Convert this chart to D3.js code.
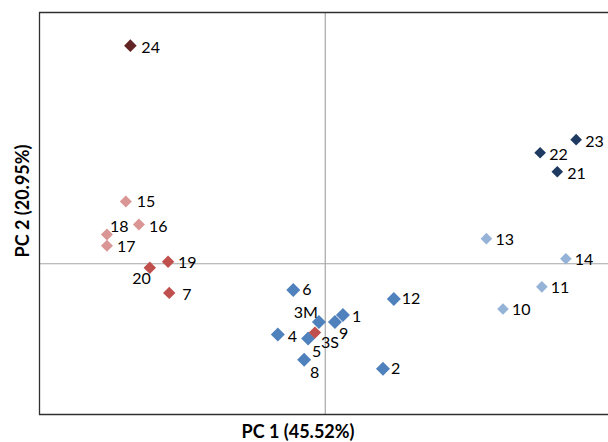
<!DOCTYPE html>
<html>
<head>
<meta charset="utf-8">
<script src="https://cdn.jsdelivr.net/npm/d3@7"></script>
<style>
  html, body { margin: 0; padding: 0; background: #fff; }
  svg { display: block; }
  text { font-family: Lato, "Open Sans", sans-serif; }
</style>
</head>
<body>
<svg id="chart" width="608" height="442"></svg>
<script>
// ---- data ----
const labels = ["1","2","4","5","6","8","9","12","3M","10","11","13","14","21","22","23","15","16","17","18","19","20","7","3S","24"];
const pc1 = [0.31, 1.01, -0.83, -0.30, -0.56, -0.37, 0.17, 1.20, -0.11, 3.11, 3.79, 2.82, 4.21, 4.06, 3.76, 4.39, -3.49, -3.26, -3.82, -3.82, -2.75, -3.07, -2.73, -0.18, -3.41];
const pc2 = [-1.02, -2.09, -1.41, -1.49, -0.52, -1.91, -1.16, -0.70, -1.16, -0.90, -0.46, 0.50, 0.10, 1.83, 2.21, 2.47, 1.24, 0.78, 0.36, 0.58, 0.04, -0.08, -0.58, -1.37, 4.34];
const groups = ["A","A","A","A","A","A","A","A","A","B","B","B","B","C","C","C","D","D","D","D","E","E","E","E","F"];
const xTitle = "PC 1 (45.52%)";
const yTitle = "PC 2 (20.95%)";

// ---- styles ----
const groupColor = {A:"#4F81BD", B:"#95B3D7", C:"#1F3A60", D:"#D99694", E:"#C0504D", F:"#632523"};
const groupSize = {A:7, B:5.8, C:5.8, D:6, E:6.2, F:6.3};
const labelPos = {
  "24":[11,7], "23":[9,7], "22":[9,7], "21":[10,7], "13":[9,6], "14":[9,6], "11":[9,6], "10":[9,6],
  "15":[11,6], "16":[10,7], "19":[10,6], "7":[13,7], "18":[3,-3], "17":[10,6], "20":[1,16,"end"],
  "6":[9,5], "12":[8,5], "1":[9,7], "4":[10,7], "2":[8,5],
  "3M":[-1,-4,"end"], "9":[4,17], "3S":[6,15], "5":[4,18], "8":[6,18]
};

const svg = d3.select("#chart");
const x = d3.scaleLinear().domain([-5, 5]).range([39.5, 611]);
const y = d3.scaleLinear().domain([-3, 5]).range([414.5, 12.5]);

// zero lines
svg.append("line")
  .attr("x1", x(0)).attr("x2", x(0))
  .attr("y1", y(5)).attr("y2", y(-3))
  .attr("stroke", "#A6A6A6").attr("stroke-width", 1.2);
svg.append("line")
  .attr("x1", x(-5)).attr("x2", x(5) + 10)
  .attr("y1", y(0)).attr("y2", y(0))
  .attr("stroke", "#A6A6A6").attr("stroke-width", 1.2);

// frame
svg.append("path")
  .attr("d", `M${x(5)+20},${y(5)} H${x(-5)} V${y(-3)} H${x(5)+20}`)
  .attr("fill", "none").attr("stroke", "#303030").attr("stroke-width", 1.3);

const data = labels.map((l, i) => ({label: l, x: pc1[i], y: pc2[i], g: groups[i]}));

// points
svg.append("g").selectAll("path").data(data).join("path")
  .attr("transform", d => `translate(${x(d.x)},${y(d.y)})`)
  .attr("d", d => { const r = groupSize[d.g]; return `M0,${-r}L${r},0L0,${r}L${-r},0Z`; })
  .attr("fill", d => groupColor[d.g]);

// labels
svg.append("g").selectAll("text").data(data).join("text")
  .attr("x", d => x(d.x) + (labelPos[d.label] || [9,6])[0])
  .attr("y", d => y(d.y) + (labelPos[d.label] || [9,6])[1])
  .attr("text-anchor", d => (labelPos[d.label] || [])[2] || "start")
  .attr("font-size", 16)
  .attr("fill", "#000")
  .text(d => d.label);

// axis titles
svg.append("text")
  .attr("x", 298).attr("y", 438)
  .attr("text-anchor", "middle")
  .attr("font-size", 18).attr("font-weight", "bold")
  .text(xTitle);
svg.append("text")
  .attr("transform", "translate(29,201) rotate(-90)")
  .attr("text-anchor", "middle")
  .attr("font-size", 18).attr("font-weight", "bold")
  .text(yTitle);
</script>
</body>
</html>
